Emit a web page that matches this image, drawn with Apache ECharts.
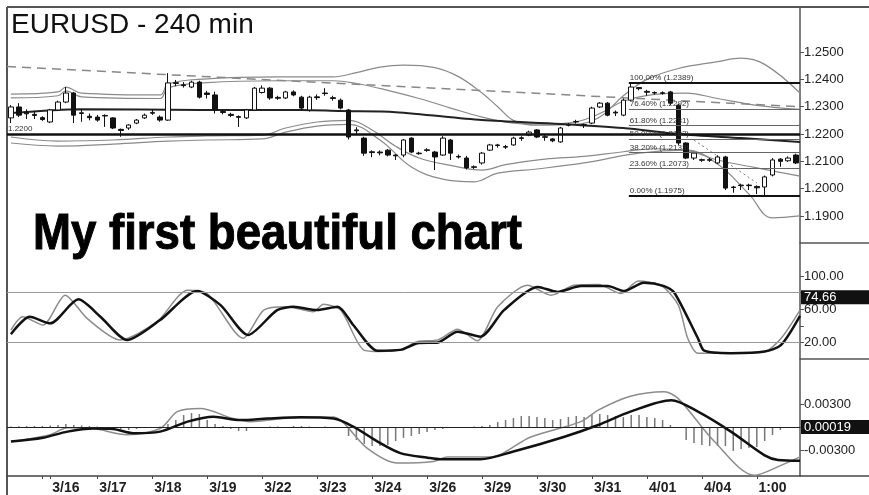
<!DOCTYPE html>
<html>
<head>
<meta charset="utf-8">
<script src="https://cdn.jsdelivr.net/npm/echarts@6/dist/echarts.min.js"></script>
<style>
  html, body { margin: 0; padding: 0; background: #fff; }
  #main { width: 869px; height: 495px; }
</style>
</head>
<body>
<div id="main"></div>
<script>
// bottom axis: day labels, where they sit and where the day ticks are
const dayLabels = ['3/16', '3/17', '3/18', '3/19', '3/22', '3/23', '3/24', '3/26', '3/29', '3/30', '3/31', '4/01', '4/04', '1:00'];
const labelIdx = [7, 13, 20, 27, 34, 41, 48, 55, 62, 69, 76, 83, 90, 97];
const tickIdx = [4, 5, 11, 18, 25, 32, 39, 46, 53, 60, 67, 74, 81, 88, 95];

// right axis tick labels
const priceTicks = [1.19, 1.20, 1.21, 1.22, 1.23, 1.24, 1.25];
const stochTicks = [20, 60, 100];
const macdTicks = [-0.003, 0.003];

// 240 min candles
const opens = [1.2259, 1.2299, 1.2280, 1.2272, 1.2260, 1.2244, 1.2288, 1.2317, 1.2350, 1.2275,
  1.2265, 1.2262, 1.2268, 1.2259, 1.2217, 1.2222, 1.2240, 1.2259, 1.2276, 1.2262,
  1.2251, 1.2385, 1.2380, 1.2372, 1.2390, 1.2350, 1.2343, 1.2282, 1.2272, 1.2264,
  1.2259, 1.2288, 1.2352, 1.2368, 1.2334, 1.2332, 1.2354, 1.2335, 1.2288, 1.2336,
  1.2350, 1.2333, 1.2324, 1.2288, 1.2215, 1.2185, 1.2135, 1.2134, 1.2141, 1.2123,
  1.2123, 1.2185, 1.2130, 1.2142, 1.2134, 1.2123, 1.2178, 1.2118, 1.2112, 1.2080,
  1.2094, 1.2141, 1.2160, 1.2154, 1.2160, 1.2186, 1.2196, 1.2215, 1.2190, 1.2182,
  1.2171, 1.2232, 1.2244, 1.2234, 1.2240, 1.2299, 1.2313, 1.2280, 1.2269, 1.2324,
  1.2370, 1.2356, 1.2352, 1.2351, 1.2354, 1.2306, 1.2167, 1.2112, 1.2106, 1.2106,
  1.2094, 1.2116, 1.2006, 1.2013, 1.2013, 1.2008, 1.2006, 1.2050, 1.2108, 1.2102,
  1.2123];
const closes = [1.2299, 1.2269, 1.2274, 1.2268, 1.2253, 1.2288, 1.2317, 1.2350, 1.2269, 1.2278,
  1.2260, 1.2251, 1.2266, 1.2222, 1.2213, 1.2233, 1.2251, 1.2269, 1.2279, 1.2251,
  1.2387, 1.2388, 1.2377, 1.2390, 1.2335, 1.2345, 1.2288, 1.2279, 1.2268, 1.2261,
  1.2288, 1.2368, 1.2368, 1.2332, 1.2331, 1.2354, 1.2343, 1.2295, 1.2335, 1.2333,
  1.2348, 1.2330, 1.2295, 1.2189, 1.2212, 1.2130, 1.2132, 1.2131, 1.2123, 1.2120,
  1.2178, 1.2134, 1.2128, 1.2140, 1.2116, 1.2185, 1.2130, 1.2116, 1.2076, 1.2078,
  1.2130, 1.2160, 1.2158, 1.2152, 1.2185, 1.2184, 1.2207, 1.2189, 1.2188, 1.2175,
  1.2222, 1.2234, 1.2246, 1.2232, 1.2295, 1.2313, 1.2269, 1.2277, 1.2324, 1.2372,
  1.2366, 1.2353, 1.2350, 1.2349, 1.2313, 1.2167, 1.2112, 1.2130, 1.2104, 1.2104,
  1.2116, 1.2002, 1.2004, 1.2011, 1.2011, 1.2003, 1.2043, 1.2105, 1.2100, 1.2112,
  1.2094];
const lows = [1.2240, 1.2262, 1.2255, 1.2255, 1.2248, 1.2240, 1.2284, 1.2313, 1.2240, 1.2245,
  1.2250, 1.2245, 1.2226, 1.2218, 1.2190, 1.2215, 1.2236, 1.2255, 1.2270, 1.2245,
  1.2248, 1.2375, 1.2370, 1.2368, 1.2330, 1.2330, 1.2275, 1.2272, 1.2262, 1.2226,
  1.2255, 1.2284, 1.2348, 1.2325, 1.2325, 1.2328, 1.2338, 1.2285, 1.2282, 1.2325,
  1.2340, 1.2322, 1.2290, 1.2180, 1.2200, 1.2120, 1.2115, 1.2122, 1.2118, 1.2105,
  1.2115, 1.2130, 1.2124, 1.2135, 1.2068, 1.2120, 1.2105, 1.2110, 1.2070, 1.2072,
  1.2088, 1.2138, 1.2150, 1.2145, 1.2157, 1.2175, 1.2192, 1.2185, 1.2175, 1.2170,
  1.2168, 1.2228, 1.2238, 1.2222, 1.2236, 1.2295, 1.2265, 1.2266, 1.2265, 1.2320,
  1.2360, 1.2340, 1.2344, 1.2344, 1.2306, 1.2160, 1.2108, 1.2105, 1.2098, 1.2098,
  1.2090, 1.1995, 1.1985, 1.1995, 1.1995, 1.1980, 1.1975, 1.2045, 1.2080, 1.2098,
  1.2090];
const highs = [1.2306, 1.2313, 1.2290, 1.2285, 1.2265, 1.2292, 1.2322, 1.2372, 1.2354, 1.2290,
  1.2275, 1.2270, 1.2272, 1.2262, 1.2220, 1.2236, 1.2255, 1.2275, 1.2290, 1.2268,
  1.2423, 1.2398, 1.2390, 1.2395, 1.2395, 1.2358, 1.2355, 1.2288, 1.2278, 1.2268,
  1.2292, 1.2372, 1.2378, 1.2372, 1.2340, 1.2358, 1.2360, 1.2340, 1.2340, 1.2345,
  1.2368, 1.2340, 1.2330, 1.2292, 1.2225, 1.2190, 1.2140, 1.2140, 1.2145, 1.2126,
  1.2182, 1.2188, 1.2135, 1.2148, 1.2138, 1.2192, 1.2182, 1.2125, 1.2120, 1.2085,
  1.2134, 1.2164, 1.2164, 1.2160, 1.2190, 1.2192, 1.2212, 1.2218, 1.2200, 1.2185,
  1.2226, 1.2240, 1.2252, 1.2238, 1.2300, 1.2317, 1.2317, 1.2286, 1.2330, 1.2389,
  1.2372, 1.2362, 1.2356, 1.2356, 1.2358, 1.2310, 1.2170, 1.2135, 1.2110, 1.2112,
  1.2122, 1.2120, 1.2010, 1.2018, 1.2018, 1.2012, 1.2048, 1.2112, 1.2112, 1.2118,
  1.2128];

// overlays on the price panel: [bar index, price]
const bandUpperA = [[0, 1.2346], [6, 1.2354], [7, 1.2372], [9, 1.2350], [19, 1.2343], [20, 1.2383], [25, 1.2402], [34, 1.2409], [41, 1.2409], [44, 1.2425], [47, 1.2445], [50, 1.2452], [54, 1.2443], [57, 1.2410], [60, 1.2350], [62, 1.2300], [64, 1.2250], [67, 1.2232], [72, 1.2235], [75, 1.2262], [78, 1.2340], [81, 1.2400], [85, 1.2440], [90, 1.2465], [93, 1.2478], [96, 1.2455], [100.5, 1.2350]];
const bandUpperB = [[0, 1.2332], [6, 1.2340], [7, 1.2358], [9, 1.2336], [19, 1.2330], [20, 1.2369], [25, 1.2388], [34, 1.2395], [41, 1.2395], [44, 1.2385], [48, 1.2360], [52, 1.2330], [56, 1.2295], [60, 1.2262], [64, 1.2240], [68, 1.2236], [72, 1.2245], [75, 1.2275], [78, 1.2320], [82, 1.2345], [86, 1.2350], [90, 1.2330], [95, 1.2305], [100.5, 1.2290]];
const bandLowerA = [[0, 1.2189], [6, 1.2174], [13, 1.2178], [20, 1.2189], [25, 1.2193], [32, 1.2196], [35, 1.2222], [39, 1.2244], [43, 1.2250], [46, 1.2215], [49, 1.2155], [52, 1.2112], [56, 1.2085], [60, 1.2068], [63, 1.2088], [68, 1.2108], [73, 1.2118], [78, 1.2135], [82, 1.2146], [86, 1.2140], [90, 1.2105], [95, 1.2076], [100.5, 1.2046]];
const bandLowerB = [[0, 1.2167], [6, 1.2156], [13, 1.2163], [20, 1.2174], [25, 1.2178], [32, 1.2182], [35, 1.2207], [39, 1.2229], [43, 1.2235], [47, 1.2178], [51, 1.2079], [55, 1.2035], [59, 1.2025], [62, 1.2057], [67, 1.2072], [73, 1.2094], [80, 1.2130], [86, 1.2141], [90, 1.2090], [94, 1.1980], [97, 1.1893], [100.5, 1.1900]];
const movingAvg = [[0, 1.2277], [9, 1.2291], [24, 1.2288], [37, 1.2288], [42, 1.2284], [49, 1.2280], [60, 1.2251], [70, 1.2237], [78, 1.2222], [85, 1.2200], [93, 1.2185], [100.5, 1.2171]];
const trendLine = [[-0.5, 1.2447], [100.5, 1.2300]];
const dotTrend = [[87, 1.2178], [95, 1.2021]];
const supportLevel = 1.22;

// fibonacci retracement
const fibPct = [100, 76.4, 61.8, 50, 38.2, 23.6, 0];
const fibVal = [1.2389, 1.2292, 1.2231, 1.2182, 1.2133, 1.2073, 1.1975];
const fibStart = 78.7;

// stochastics: [bar index, value]
const stochK = [[0, 35], [1.5, 51], [4.1, 41], [6.9, 77], [9.7, 49], [13.9, 23], [18.6, 45], [22.5, 83], [25, 79], [29.6, 25], [32.2, 59], [35.2, 63], [38.5, 57], [39.8, 66], [42, 59], [44.9, 11], [47, 9], [49.6, 11], [51.8, 21], [54.4, 23], [56.9, 36], [59.4, 22], [62, 63], [65.8, 89], [68.8, 77], [71.7, 89], [74.8, 90], [77.7, 79], [79.9, 94], [82.8, 89], [85, 65], [86.2, 25], [87.5, 7], [91.7, 7], [96, 9], [98.1, 25], [100.5, 59]];
const stochD = [[0, 30], [2.4, 51], [5, 43], [8.6, 72], [11.4, 51], [14.8, 23], [19, 47], [23.7, 82], [26.7, 65], [30.2, 29], [33.9, 59], [36, 63], [39, 59], [41.6, 63], [43.6, 41], [46.7, 10], [49.6, 11], [51.8, 19], [54.4, 20], [56.9, 33], [59.8, 27], [62.8, 59], [67.1, 87], [69.6, 81], [72.6, 88], [76, 88], [78.1, 82], [80.6, 92], [83.2, 88], [84.5, 80], [87.5, 25], [88.3, 10], [91.7, 7], [96, 9], [98.1, 17], [100.5, 52]];
const stochLevels = [80, 20];
const stochLast = 74.66;

// MACD
const macdGray = [[0, -0.0019], [5, -0.001], [7.2, -0.0001], [10.5, -0.0002], [14.8, -0.001], [19, -0.0002], [21.2, 0.002], [24.1, 0.0024], [28.3, 0.0011], [30.5, 0.0007], [34.7, 0.0011], [41.1, 0.0013], [42.4, 0.0005], [45.4, -0.0028], [49.2, -0.0047], [53.8, -0.0045], [55.6, -0.0039], [61.1, -0.0039], [66.2, -0.0013], [72.6, 0.0007], [74.8, 0.0022], [78.9, 0.004], [83.2, 0.0046], [85, 0.0037], [89.6, -0.0019], [94.7, -0.0063], [98.1, -0.005], [100.5, -0.0039]];
const macdBlack = [[0, -0.0019], [4.1, -0.0014], [7.2, -0.0006], [10.5, -0.0002], [13, -0.00026], [15.6, -0.0008], [19, -0.0006], [22.5, 0.0007], [25.8, 0.00134], [29.2, 0.0009], [32.7, 0.0011], [36.9, 0.00126], [41.1, 0.0011], [43.6, 0.00004], [46.7, -0.0019], [49.6, -0.0034], [53.1, -0.004], [54.7, -0.0042], [59.8, -0.0042], [64, -0.0032], [70.4, -0.0013], [74.8, 0.00026], [78.9, 0.002], [84.1, 0.0035], [87.5, 0.002], [91.7, -0.0006], [96, -0.0037], [97.7, -0.0043], [100.5, -0.0044]];
const macdHist = [0.00007, 0.00009, 0.00013, 0.00013, 0.00013, 0.0002, 0.00026, 0.00039, 0.00026, 0.0002,
  0.00013, 0.00007, 0, -0.00013, -0.00026, -0.00039, -0.00026, -0.00013, 0, 0.00007,
  0.00039, 0.00091, 0.00156, 0.00182, 0.00169, 0.00091, 0.00039, 0.00013, -0.00026, -0.00052,
  -0.00052, -0.00013, 0, 0.00007, 0.00007, 0, 0.00013, 0.00013, 0.00007, 0,
  0.00007, 0, -0.00007, -0.00117, -0.00169, -0.00221, -0.00247, -0.00247, -0.00234, -0.00182,
  -0.00143, -0.00117, -0.00091, -0.00065, -0.00039, -0.00026, -0.00013, -0.00013, -0.00013, 0.00007,
  0.00013, 0.00026, 0.00065, 0.00091, 0.00117, 0.00143, 0.00143, 0.0013, 0.00117, 0.00091,
  0.00104, 0.0013, 0.00143, 0.0013, 0.00156, 0.00169, 0.00156, 0.00143, 0.0013, 0.00156,
  0.00156, 0.0013, 0.00117, 0.00091, 0.00026, -0.00013, -0.00169, -0.00208, -0.00234, -0.00247,
  -0.00247, -0.00247, -0.00312, -0.00286, -0.00273, -0.0026, -0.00182, -0.00104, -0.00039, -0.00013,
  0];
const macdLast = 0.00019;

const categories = opens.map((_, i) => {
  const k = labelIdx.indexOf(i);
  return k >= 0 ? dayLabels[k] : '';
});

const FONT = 'Liberation Sans';
const chart = echarts.init(document.getElementById('main'));

function overlay(data, xi, yi, color, width, extra) {
  return Object.assign({
    type: 'line', xAxisIndex: xi, yAxisIndex: yi, data: data,
    symbol: 'none', silent: true, z: 2,
    lineStyle: { color: color, width: width }
  }, extra || {});
}

function hiddenValueX(grid) {
  return { type: 'value', gridIndex: grid, min: -0.5, max: 100.5, show: false, axisLine: { onZero: false } };
}

function rightAxis(grid, min, max, labels, ticks, digits) {
  return {
    type: 'value', gridIndex: grid, position: 'right', min: min, max: max,
    axisLine: { show: true, onZero: false, lineStyle: { color: '#555', width: 1.5 } },
    axisTick: { show: true, length: 4, inside: false, customValues: ticks, lineStyle: { color: '#555' } },
    axisLabel: {
      customValues: labels, margin: 4, color: '#222', fontSize: 13, fontFamily: FONT,
      formatter: (v) => v.toFixed(digits)
    },
    splitLine: { show: false }
  };
}

// black value box stuck on the right axis
const lastBox = (txt) => ({
  show: true, position: 'end', formatter: txt, distance: 1,
  color: '#fff', backgroundColor: '#111', fontSize: 13, fontFamily: FONT,
  padding: [1, 3, 0, 3], width: 62
});
const hiddenLine = { color: 'rgba(0,0,0,0)', width: 1, type: 'solid' };

const fibLines = fibPct.map((p, i) => {
  const strong = p === 100 || p === 0;
  return [
    {
      coord: [fibStart, fibVal[i]],
      lineStyle: { color: strong ? '#111' : '#666', width: strong ? 2 : 1, type: 'solid' },
      label: { formatter: p.toFixed(2) + '% (' + fibVal[i].toFixed(4) + ')' }
    },
    { coord: [100.5, fibVal[i]] }
  ];
});

const option = {
  animation: false,
  backgroundColor: '#fff',
  textStyle: { fontFamily: FONT },
  grid: [
    { left: 7, right: 69, top: 7, height: 236 },
    { left: 7, right: 69, top: 243, height: 116 },
    { left: 7, right: 69, top: 359, height: 117 }
  ],
  xAxis: [
    { type: 'category', gridIndex: 0, data: categories, show: false },
    hiddenValueX(0),
    hiddenValueX(1),
    {
      type: 'category', gridIndex: 2, data: categories,
      axisLine: { show: true, onZero: false, lineStyle: { color: '#444', width: 1.5 } },
      axisTick: { show: true, alignWithLabel: true, length: 3, interval: (i) => tickIdx.includes(i), lineStyle: { color: '#444' } },
      axisLabel: {
        interval: (i) => labelIdx.includes(i), margin: 5,
        fontSize: 14, fontWeight: 'bold', color: '#222', fontFamily: FONT
      },
      splitLine: { show: false }
    },
    hiddenValueX(2)
  ],
  yAxis: [
    rightAxis(0, 1.1801, 1.2665, priceTicks, priceTicks, 4),
    rightAxis(1, 0, 140, stochTicks, [20, 40, 60, 80, 100], 2),
    rightAxis(2, -0.00639, 0.00887, macdTicks, [-0.003, 0, 0.003], 5)
  ],
  graphic: [
    { type: 'line', shape: { x1: 7, y1: 7, x2: 869, y2: 7 }, style: { stroke: '#555', lineWidth: 2 } },
    { type: 'line', shape: { x1: 7, y1: 7, x2: 7, y2: 495 }, style: { stroke: '#555', lineWidth: 2 } },
    { type: 'line', shape: { x1: 800, y1: 243, x2: 869, y2: 243 }, style: { stroke: '#555', lineWidth: 1.5 } },
    { type: 'line', shape: { x1: 800, y1: 359, x2: 869, y2: 359 }, style: { stroke: '#555', lineWidth: 1.5 } },
    { type: 'line', shape: { x1: 800, y1: 476, x2: 869, y2: 476 }, style: { stroke: '#444', lineWidth: 1.5 } },
    {
      type: 'text', x: 11, y: 25,
      style: { text: 'EURUSD - 240 min', fontSize: 28, fontFamily: FONT, fill: '#111', verticalAlign: 'middle' }
    },
    {
      type: 'text', x: 33, y: 235, scaleX: 0.912,
      style: { text: 'My first beautiful chart', fontSize: 50, fontWeight: 'bold', fontFamily: FONT, fill: '#000', stroke: '#000', lineWidth: 1, verticalAlign: 'middle' }
    }
  ],
  series: [
    overlay(trendLine, 1, 0, '#888', 1.5, { lineStyle: { color: '#888', width: 1.5, type: [9, 6] } }),
    overlay(bandUpperA, 1, 0, '#8a8a8a', 1.2, { smooth: 0.4 }),
    overlay(bandUpperB, 1, 0, '#8a8a8a', 1.2, { smooth: 0.4 }),
    overlay(bandLowerA, 1, 0, '#8a8a8a', 1.2, { smooth: 0.4 }),
    overlay(bandLowerB, 1, 0, '#8a8a8a', 1.2, { smooth: 0.4 }),
    overlay(dotTrend, 1, 0, '#777', 1, { lineStyle: { color: '#777', width: 1, type: [2, 3] } }),
    overlay(movingAvg, 1, 0, '#222', 2, {
      smooth: 0.3,
      markLine: {
        silent: true, symbol: 'none',
        label: { show: true, position: 'insideStartTop', fontSize: 8, color: '#333', distance: 1, fontFamily: FONT },
        data: fibLines
      }
    }),
    {
      type: 'candlestick', xAxisIndex: 0, yAxisIndex: 0, z: 3,
      data: opens.map((o, i) => [o, closes[i], lows[i], highs[i]]),
      barWidth: 5,
      itemStyle: { color: '#fff', color0: '#111', borderColor: '#111', borderColor0: '#111', borderWidth: 1 },
      markLine: {
        silent: true, symbol: 'none',
        data: [{
          yAxis: supportLevel,
          lineStyle: { color: '#111', width: 2.5, type: 'solid' },
          label: { show: true, position: 'insideStartTop', formatter: supportLevel.toFixed(4), fontSize: 8, color: '#333', distance: 1 }
        }]
      }
    },
    overlay(stochK, 2, 1, '#8c8c8c', 1.5, { smooth: 0.25 }),
    overlay(stochD, 2, 1, '#111', 2.5, {
      smooth: 0.25,
      markLine: {
        silent: true, symbol: 'none',
        data: stochLevels.map((v) => ({ yAxis: v, lineStyle: { color: '#999', width: 1, type: 'solid' }, label: { show: false } }))
          .concat([{ yAxis: stochLast, lineStyle: hiddenLine, label: lastBox(stochLast.toFixed(2)) }])
      }
    }),
    {
      type: 'bar', xAxisIndex: 3, yAxisIndex: 2, data: macdHist,
      barWidth: 1.5, silent: true, itemStyle: { color: '#777' },
      markLine: {
        silent: true, symbol: 'none',
        data: [
          { yAxis: 0, lineStyle: { color: '#222', width: 1, type: 'solid' }, label: { show: false } },
          { yAxis: macdLast, lineStyle: hiddenLine, label: lastBox(macdLast.toFixed(5)) }
        ]
      }
    },
    overlay(macdGray, 4, 2, '#8c8c8c', 1.5, { smooth: 0.3 }),
    overlay(macdBlack, 4, 2, '#111', 2.5, { smooth: 0.3 })
  ]
};

chart.setOption(option);
</script>
</body>
</html>
